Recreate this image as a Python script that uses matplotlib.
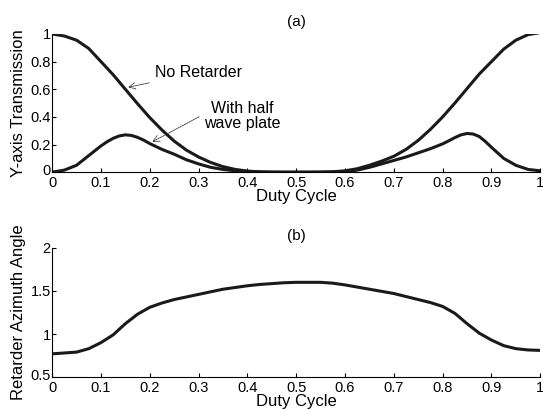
import matplotlib.pyplot as plt
import matplotlib.transforms as mtransforms

plt.rcParams['font.family'] = ['Liberation Sans', 'DejaVu Sans']

# values, duty cycle step 0.025
duty = [0, 0.025, 0.05, 0.075, 0.1, 0.125, 0.15, 0.175, 0.2, 0.225, 0.25, 0.275,
        0.3, 0.325, 0.35, 0.375, 0.4, 0.425, 0.45, 0.475, 0.5, 0.525, 0.55, 0.575,
        0.6, 0.625, 0.65, 0.675, 0.7, 0.725, 0.75, 0.775, 0.8, 0.825, 0.85, 0.875,
        0.9, 0.925, 0.95, 0.975, 1.0]
no_retarder = [1.0, 0.985, 0.955, 0.895, 0.80, 0.705, 0.60, 0.495, 0.395, 0.305, 0.225, 0.16,
               0.11, 0.07, 0.04, 0.02, 0.008, 0.003, 0.001, 0.0, 0.0, 0.0, 0.001, 0.003,
               0.01, 0.025, 0.05, 0.08, 0.115, 0.165, 0.23, 0.31, 0.40, 0.50, 0.605, 0.71,
               0.80, 0.89, 0.955, 0.995, 1.01]

# half wave plate curve, read more finely around the two peaks
duty_hw = [0, 0.025, 0.05, 0.075, 0.1, 0.1125, 0.125, 0.1375, 0.15, 0.1625, 0.175, 0.1875,
           0.2, 0.225, 0.25, 0.275, 0.3, 0.325, 0.35, 0.375, 0.4, 0.425, 0.45, 0.5,
           0.55, 0.575, 0.6, 0.625, 0.65, 0.675, 0.7, 0.725, 0.75, 0.775, 0.8, 0.8125,
           0.825, 0.8375, 0.85, 0.8625, 0.875, 0.8875, 0.9, 0.9125, 0.925, 0.95, 0.975, 1.0]
half_wave = [0.0, 0.015, 0.05, 0.12, 0.19, 0.22, 0.245, 0.262, 0.27, 0.266, 0.252, 0.232,
             0.207, 0.165, 0.13, 0.09, 0.06, 0.035, 0.02, 0.01, 0.004, 0.001, 0.0, 0.0,
             0.0, 0.001, 0.005, 0.015, 0.035, 0.06, 0.085, 0.11, 0.14, 0.17, 0.205, 0.227,
             0.25, 0.27, 0.28, 0.276, 0.258, 0.222, 0.18, 0.14, 0.10, 0.05, 0.02, 0.01]

azimuth = [0.77, 0.78, 0.79, 0.83, 0.90, 0.99, 1.12, 1.23, 1.31, 1.36, 1.40, 1.43,
           1.46, 1.49, 1.52, 1.54, 1.56, 1.575, 1.585, 1.595, 1.60, 1.60, 1.60, 1.59,
           1.57, 1.545, 1.52, 1.495, 1.47, 1.435, 1.40, 1.365, 1.32, 1.24, 1.12, 1.01,
           0.93, 0.865, 0.83, 0.815, 0.81]

ticks_x = [0, 0.1, 0.2, 0.3, 0.4, 0.5, 0.6, 0.7, 0.8, 0.9, 1]
ticklabels_x = ['0', '0.1', '0.2', '0.3', '0.4', '0.5', '0.6', '0.7', '0.8', '0.9', '1']

fig = plt.figure(figsize=(5.43, 4.09), dpi=100)
line_kw = dict(color='#1a1a1a', lw=2.2, solid_joinstyle='round', solid_capstyle='round')
arrow_kw = dict(arrowstyle='->', lw=0.6, ls=(0, (2, 1)), color='#333')

# (a) transmission
ax1 = fig.add_axes([0.096, 0.579, 0.899, 0.338])
ax1.plot(duty, no_retarder, **line_kw)
ax1.plot(duty_hw, half_wave, **line_kw)
ax1.set_xlim(0, 1)
ax1.set_ylim(0, 1)
ax1.set_yticks([0, 0.2, 0.4, 0.6, 0.8, 1])
ax1.set_yticklabels(['0', '0.2', '0.4', '0.6', '0.8', '1'])
ax1.set_ylabel('Y-axis Transmission', fontsize=12, labelpad=3)
ax1.set_title('(a)', fontsize=11, pad=6)
ax1.annotate('No Retarder', xy=(0.15, 0.61), xytext=(0.21, 0.72),
             fontsize=11.5, va='center', ha='left', arrowprops=arrow_kw)
ax1.annotate('With half\nwave plate', xy=(0.20, 0.21), xytext=(0.39, 0.41),
             fontsize=11.5, va='center', ha='center', linespacing=1.0,
             arrowprops=dict(arrow_kw, relpos=(0.0, 0.55)))

# (b) azimuth angle
ax2 = fig.add_axes([0.096, 0.078, 0.899, 0.316])
ax2.plot(duty, azimuth, **line_kw)
ax2.set_xlim(0, 1)
ax2.set_ylim(0.5, 2)
ax2.set_yticks([0.5, 1, 1.5, 2])
ax2.set_yticklabels(['0.5', '1', '1.5', '2'])
ax2.set_ylabel('Retarder Azimuth Angle', fontsize=12, labelpad=3)
ax2.set_title('(b)', fontsize=11, pad=6)

for ax in (ax1, ax2):
    ax.set_xticks(ticks_x)
    ax.set_xticklabels(ticklabels_x)
    ax.set_xlabel('Duty Cycle', fontsize=12, labelpad=-1)
    ax.spines['top'].set_visible(False)
    ax.spines['right'].set_visible(False)
    ax.tick_params(direction='in', length=3, labelsize=10.5)
    ax.tick_params(axis='x', pad=3)
    ax.tick_params(axis='y', pad=1)
    # nudge the lowest y label up a little so it clears the x "0"
    lab = ax.get_yticklabels()[0]
    lab.set_transform(lab.get_transform() +
                      mtransforms.ScaledTranslation(0, 2 / 72, fig.dpi_scale_trans))

plt.savefig('out.png', dpi=100)
